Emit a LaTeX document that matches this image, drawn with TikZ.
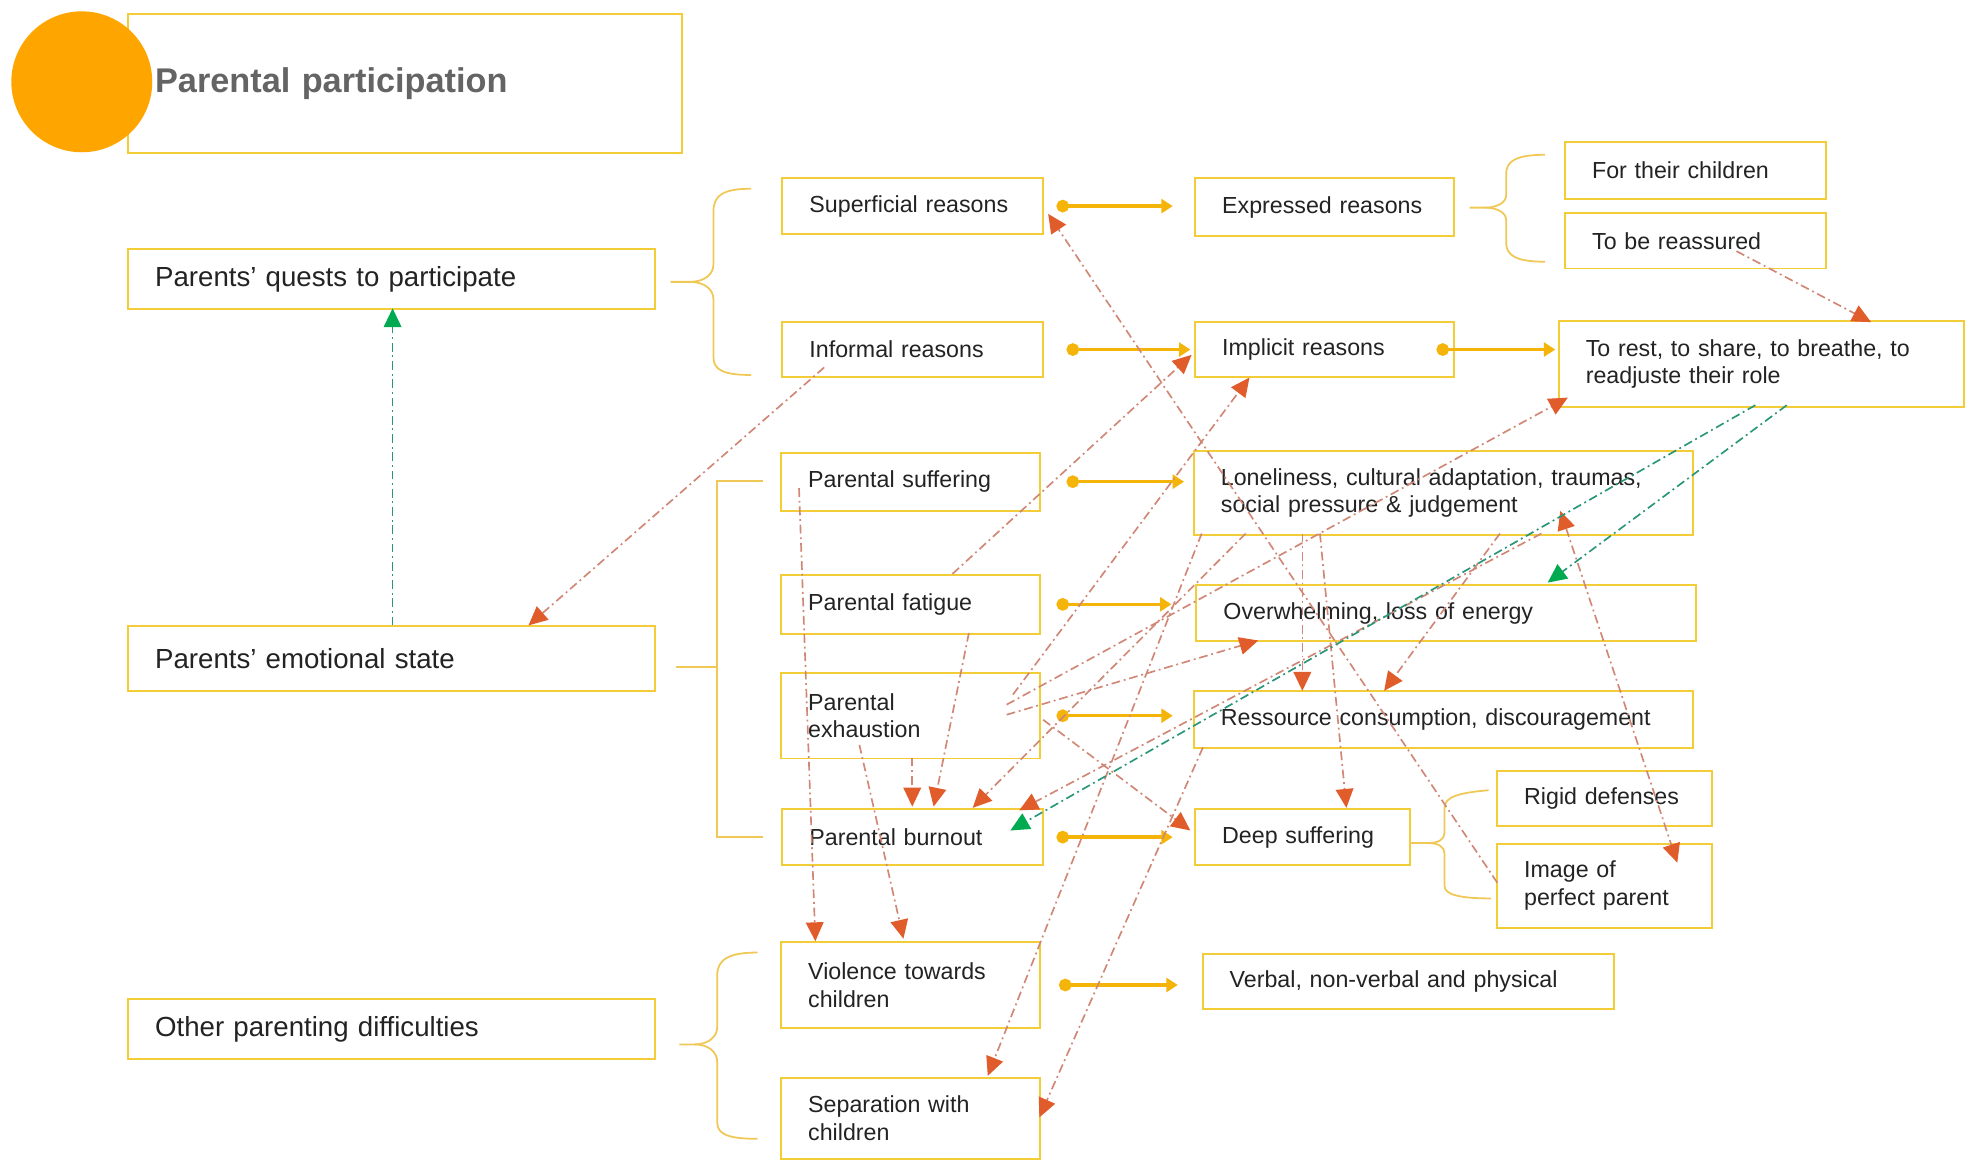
\documentclass[tikz,border=0pt]{standalone}
\usepackage{fontspec}
\setmainfont{Liberation Sans}
\usetikzlibrary{arrows.meta,
							calc,
							positioning}

\definecolor{boxyellow}{RGB}{242,205,55}
\definecolor{braceyellow}{RGB}{240,200,85}
\definecolor{amber}{RGB}{245,180,10}
\definecolor{badgeorange}{RGB}{255,165,0}
\definecolor{titlegray}{RGB}{100,100,100}
\definecolor{inkgray}{RGB}{35,35,35}
\definecolor{linkred}{RGB}{208,135,118}
\definecolor{headred}{RGB}{224,92,43}
\definecolor{linkgreen}{RGB}{40,150,120}
\definecolor{headgreen}{RGB}{0,170,80}

\begin{document}
\begin{tikzpicture}[
	x=0.2mm, y=-0.2mm,
		base/.style = {draw=boxyellow, line width=0.9pt, anchor=north west,
									 inner xsep=4.3mm, inner ysep=0pt, align=left, text=inkgray,
									 font=\fontsize{10.5}{12.5}\selectfont},
	 topic/.style = {base, font=\fontsize{12.5}{15}\selectfont},
	 title/.style = {base, text=titlegray, font=\fontsize{15.5}{18}\selectfont\bfseries},
	 brace/.style = {draw=braceyellow, line width=0.8pt},
		flow/.style = {draw=amber, line width=1.6pt,
									 {Circle[length=2mm]}-{Triangle[length=1.8mm, width=2.2mm]}},
		link/.style = {draw=linkred, line width=0.75pt,
									 dash pattern=on 1.4mm off 0.6mm on 0.3mm off 0.6mm,
									 -{Triangle[length=3mm, width=2.8mm, color=headred]}},
linkboth/.style = {link, {Triangle[length=3mm, width=2.8mm, color=headred]}-{Triangle[length=3mm, width=2.8mm, color=headred]}},
		 cue/.style = {link, draw=linkgreen,
									 -{Triangle[length=3mm, width=2.8mm, color=headgreen]}}]

\useasboundingbox[fill=white] (0,0) rectangle (1568,923);

% heading
\node[title, text width=79.4mm, minimum height=22.2mm, text depth=1.2mm] (head) at (101,10) {Parental participation};
\node[circle, fill=badgeorange, minimum size=22.4mm, inner sep=0pt] (badge) at (65,65) {};

% left column
\node[topic, text width=75.2mm, minimum height=9.6mm]  (quests) at (101,197) {Parents' quests to participate};
\node[topic, text width=75.2mm, minimum height=10.2mm] (emo)    at (101,497) {Parents' emotional state};
\node[topic, text width=75.2mm, minimum height=9.6mm]  (other)  at (101,793) {Other parenting difficulties};

% middle column
\node[base, text width=32.8mm, minimum height=8.8mm]  (superf)   at (621,141) {Superficial reasons};
\node[base, text width=32.8mm, minimum height=8.8mm]  (informal) at (621,255) {Informal reasons};
\node[base, text width=32.6mm, minimum height=9.2mm]  (psuff)    at (620,359) {Parental suffering};
\node[base, text width=32.6mm, minimum height=9.4mm]  (pfat)     at (620,456) {Parental fatigue};
\node[base, text width=32.6mm, minimum height=13.6mm] (pexh)     at (620,534) {Parental\\exhaustion};
\node[base, text width=32.8mm, minimum height=9mm]    (pburn)    at (621,642) {Parental burnout};
\node[base, text width=32.6mm, minimum height=13.6mm] (viol)     at (620,748) {Violence towards\\children};
\node[base, text width=32.6mm, minimum height=12.8mm] (sep)      at (620,856) {Separation with\\children};

% right column
\node[base, text width=32.6mm, minimum height=9.2mm]  (expr)   at (949,141) {Expressed reasons};
\node[base, text width=32.6mm, minimum height=8.8mm]  (impl)   at (949,255) {Implicit reasons};
\node[base, text width=70.8mm, minimum height=13.2mm] (lonely) at (948,358) {Loneliness, cultural adaptation, traumas,\\social pressure \& judgement};
\node[base, text width=70.8mm, minimum height=9mm]    (overw)  at (950,464) {Overwhelming, loss of energy};
\node[base, text width=70.8mm, minimum height=9.2mm]  (ress)   at (948,548) {Ressource consumption, discouragement};
\node[base, text width=25.6mm, minimum height=9mm]    (deep)   at (949,642) {Deep suffering};
\node[base, text width=56.8mm, minimum height=8.8mm]  (verbal) at (955,757) {Verbal, non-verbal and physical};

% far right
\node[base, text width=32.8mm, minimum height=9mm]    (forchild) at (1243,112) {For their children};
\node[base, text width=32.8mm, minimum height=8.8mm,
			below=2mm of forchild.south west, anchor=north west] (reass) {To be reassured};
\node[base, text width=55.8mm, minimum height=13.8mm] (torest)   at (1238,254) {To rest, to share, to breathe, to\\readjuste their role};
\node[base, text width=25.6mm, minimum height=8.8mm]  (rigid)    at (1189,612) {Rigid defenses};
\node[base, text width=25.6mm, minimum height=13.4mm,
			below=2.4mm of rigid.south west, anchor=north west] (image) {Image of\\perfect parent};

% braces
\draw[brace] (597,150) .. controls (575,150) and (567,155) .. (567,168) -- (567,210)
						 .. controls (567,218) and (560,224) .. (548,224) -- (533,224);
\draw[brace] (548,224) .. controls (560,224) and (567,230) .. (567,238) -- (567,284)
						 .. controls (567,294) and (575,298) .. (597,298);
\draw[brace] (606,382) -- (570,382) -- (570,665) -- (606,665);
\draw[brace] (537,530) -- (570,530);
\draw[brace] (602,757) .. controls (580,757) and (570,762) .. (570,775) -- (570,816)
						 .. controls (570,824) and (563,830) .. (552,830) -- (540,830);
\draw[brace] (552,830) .. controls (563,830) and (570,836) .. (570,844) -- (570,892)
						 .. controls (570,902) and (580,905) .. (602,905);
\draw[brace] (1228,123) .. controls (1205,123) and (1197,128) .. (1197,138) -- (1197,155)
						 .. controls (1197,161) and (1190,165) .. (1180,165) -- (1168,165);
\draw[brace] (1180,165) .. controls (1190,165) and (1197,169) .. (1197,175) -- (1197,193)
						 .. controls (1197,203) and (1205,208) .. (1228,208);
\draw[brace] (1183,628) .. controls (1160,630) and (1148,633) .. (1148,642) -- (1148,662)
						 .. controls (1148,667) and (1143,670) .. (1135,670) -- (1120,670);
\draw[brace] (1135,670) .. controls (1143,670) and (1148,673) .. (1148,678) -- (1148,704)
						 .. controls (1148,711) and (1160,714) .. (1185,714);

%%
\draw[flow] ([xshift=2mm]superf.east)     -- ([xshift=-3.4mm]superf.east -| expr.west);
\draw[flow] ([xshift=3.6mm]informal.east) -- ([xshift=-0.6mm]informal.east -| impl.west);
\draw[flow] ([xshift=-3mm]impl.east)      -- ([xshift=-0.4mm]impl.east -| torest.west);
\draw[flow] ([xshift=4mm]psuff.east)      -- ([xshift=-1.4mm]psuff.east -| lonely.west);
\draw[flow] ([xshift=2.4mm]pfat.east)     -- ([xshift=-3.8mm]pfat.east -| overw.west);
\draw[flow] ([xshift=2.4mm]pexh.east)     -- ([xshift=-3.2mm]pexh.east -| ress.west);
\draw[flow] ([xshift=2mm]pburn.east)      -- ([xshift=-3.4mm]pburn.east -| deep.west);
\draw[flow] ([xshift=2.8mm]viol.east)     -- ([xshift=-3.8mm]viol.east -| verbal.west);

%%
\draw[link] ([shift={(34,37)}]informal.north west) -- ([shift={(319,0)}]emo.north west);
\draw[link] ([shift={(137,31)}]reass.north west)   -- ([shift={(249,2)}]torest.north west);
\draw[link] ([shift={(1,32)}]image.north west)     -- ([shift={(212,29)}]superf.north west);
\draw[link] ([shift={(137,0)}]pfat.north west)     -- ([shift={(-2,27)}]impl.north west);
\draw[link] ([shift={(185,18)}]pexh.north west)    -- ([shift={(44,45)}]impl.north west);
\draw[link] ([shift={(180,26)}]pexh.north west)    -- ([shift={(8,62)}]torest.north west);
\draw[link] ([shift={(150,47)}]pfat.north west)    -- ([shift={(121,-1)}]pburn.north west);
\draw[link] ([shift={(105,68)}]pexh.north west)    -- ([shift={(104,-1)}]pburn.north west);
\draw[link] ([shift={(42,66)}]lonely.north west)   -- ([shift={(152,0)}]pburn.north west);
\draw[link] ([shift={(277,66)}]lonely.north west)  -- ([shift={(189,2)}]pburn.north west);
\draw[link] ([shift={(180,34)}]pexh.north west)    -- ([shift={(50,45)}]overw.north west);
\draw[link] ([shift={(209,38)}]pexh.north west)    -- ([shift={(-3,18)}]deep.north west);
\draw[link] ([shift={(87,66)}]lonely.north west)   -- ([shift={(87,1)}]ress.north west);
\draw[link] ([shift={(101,66)}]lonely.north west)  -- ([shift={(121,0)}]deep.north west);
\draw[link] ([shift={(244,66)}]lonely.north west)  -- ([shift={(152,1)}]ress.north west);
\draw[linkboth] ([shift={(292,48)}]lonely.north west) -- ([shift={(144,16)}]image.north west);
\draw[link] ([shift={(7,66)}]lonely.north west)    -- ([shift={(165,-1)}]sep.north west);
\draw[link] ([shift={(8,46)}]ress.north west)      -- ([shift={(206,32)}]sep.north west);
\draw[link] ([shift={(15,29)}]psuff.north west)    -- ([shift={(28,0)}]viol.north west);
\draw[link] ([shift={(63,58)}]pexh.north west)     -- ([shift={(98,-2)}]viol.north west);

\draw[cue] ([shift={(211,0)}]emo.north west)       -- ([shift={(211,48)}]quests.north west);
\draw[cue] ([shift={(182,68)}]torest.north west)   -- ([shift={(280,-1)}]overw.north west);
\draw[cue] ([shift={(157,68)}]torest.north west)   -- ([shift={(182,18)}]pburn.north west);
\end{tikzpicture}
\end{document}
